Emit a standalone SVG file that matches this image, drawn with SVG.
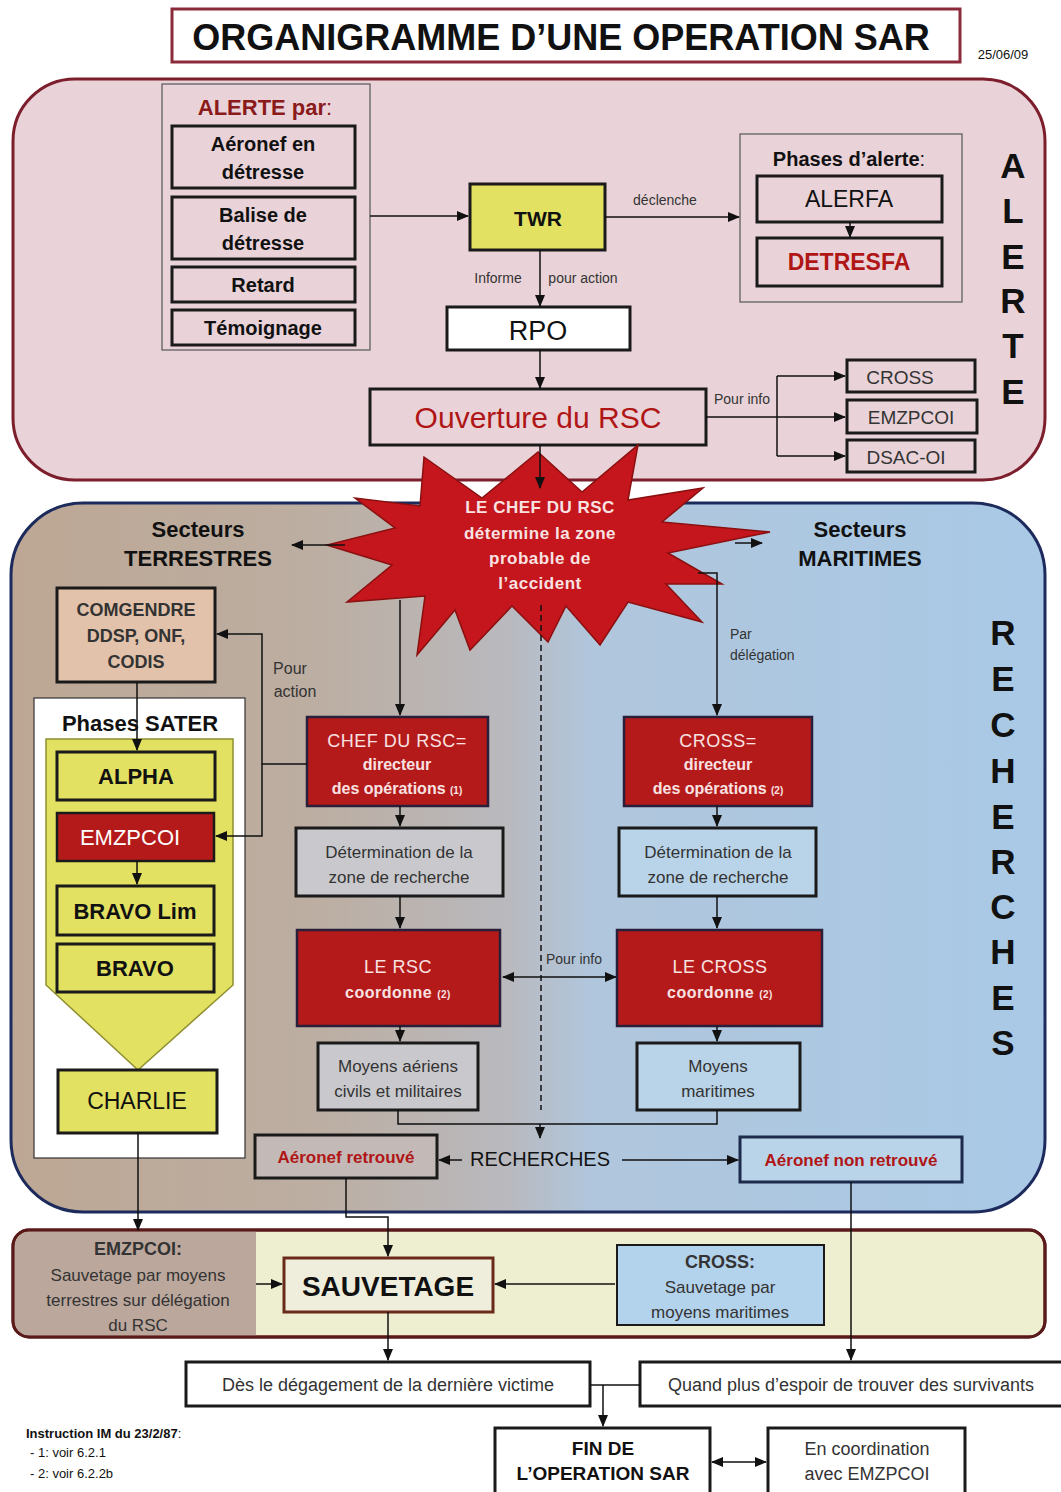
<svg xmlns="http://www.w3.org/2000/svg" width="1061" height="1492" viewBox="0 0 1061 1492">
<defs>
  <marker id="ah" markerUnits="userSpaceOnUse" markerWidth="12" markerHeight="10" refX="11" refY="5" orient="auto-start-reverse">
    <path d="M0,0 L12,5 L0,10 z" fill="#111"/>
  </marker>
  <linearGradient id="rechGrad" x1="0" y1="0" x2="1" y2="0">
    <stop offset="0" stop-color="#bda794"/>
    <stop offset="0.3" stop-color="#bcaea2"/>
    <stop offset="0.48" stop-color="#b9b9be"/>
    <stop offset="0.56" stop-color="#b0c6dc"/>
    <stop offset="1" stop-color="#a9c9e6"/>
  </linearGradient>
  <style>
    text { font-family: "Liberation Sans", Arial, sans-serif; text-anchor: middle; fill: #111; }
    .b { font-weight: bold; }
    .box { stroke: #1a1a1a; stroke-width: 3; }
    .red { fill: #b51a1a; stroke: #2a1f3a; stroke-width: 2.5; }
    .yel { fill: #e3e162; stroke: #1a1a1a; stroke-width: 3; }
    .gray { fill: #c9c9cd; stroke: #1a1a1a; stroke-width: 3; }
    .blue { fill: #b9d3e8; stroke: #1a1a1a; stroke-width: 3; }
    .wt { fill: #fff; }
    .pk { fill: #f8e2e2; }
    .gt { fill: #333; }
    .rt { fill: #b01616; }
    .conn path { stroke: #111; stroke-width: 1.5; fill: none; }
    .arr { marker-end: url(#ah); }
    .dbl { marker-start: url(#ah); marker-end: url(#ah); }
    .vl { font-size: 35px; font-weight: bold; }
  </style>
</defs>

<rect width="1061" height="1492" fill="#ffffff"/>

<!-- Title -->
<g id="title">
  <rect x="172" y="9" width="788" height="53" fill="#fff" stroke="#8b2a3a" stroke-width="3"/>
  <text x="561" y="50" class="b" font-size="36">ORGANIGRAMME D’UNE OPERATION SAR</text>
  <text x="1003" y="59" font-size="13">25/06/09</text>
</g>

<!-- ALERTE region -->
<g id="region-alerte">
  <rect x="13" y="79" width="1032" height="401" rx="62" fill="#e9d3d9" stroke="#7d1e2c" stroke-width="3"/>
  <text x="1013" y="178" class="vl">A</text>
  <text x="1013" y="223" class="vl">L</text>
  <text x="1013" y="269" class="vl">E</text>
  <text x="1013" y="313" class="vl">R</text>
  <text x="1013" y="358" class="vl">T</text>
  <text x="1013" y="404" class="vl">E</text>
</g>

<!-- RECHERCHES region -->
<g id="region-recherches">
  <rect x="11" y="503" width="1034" height="709" rx="72" fill="url(#rechGrad)" stroke="#1c2a5c" stroke-width="3"/>
  <text x="1003" y="645" class="vl" font-size="32">R</text>
  <text x="1003" y="691" class="vl" font-size="32">E</text>
  <text x="1003" y="737" class="vl" font-size="32">C</text>
  <text x="1003" y="783" class="vl" font-size="32">H</text>
  <text x="1003" y="829" class="vl" font-size="32">E</text>
  <text x="1003" y="874" class="vl" font-size="32">R</text>
  <text x="1003" y="919" class="vl" font-size="32">C</text>
  <text x="1003" y="964" class="vl" font-size="32">H</text>
  <text x="1003" y="1010" class="vl" font-size="32">E</text>
  <text x="1003" y="1055" class="vl" font-size="32">S</text>
</g>

<!-- SAUVETAGE region -->
<g id="region-sauvetage">
  <rect x="13" y="1230" width="1032" height="107" rx="16" fill="#eeeed0" stroke="#5a1a1a" stroke-width="3"/>
  <path d="M29,1231.5 H256 V1335.5 H29 A15,15 0 0 1 14.5,1321 V1246 A15,15 0 0 1 29,1231.5 Z" fill="#bba79c"/>
  <rect x="13" y="1230" width="1032" height="107" rx="16" fill="none" stroke="#5a1a1a" stroke-width="3"/>
</g>

<!-- Alerte par -->
<g id="alerte-par">
  <rect x="162" y="84" width="208" height="266" fill="none" stroke="#555" stroke-width="1.2"/>
  <text x="265" y="115" class="b" font-size="22" style="fill:#8b1a1a">ALERTE par<tspan font-weight="normal">:</tspan></text>
</g>
<g id="aeronef-detresse">
  <rect x="172" y="126" width="183" height="62" fill="none" class="box"/>
  <text x="263" y="151" class="b" font-size="20">Aéronef en</text>
  <text x="263" y="179" class="b" font-size="20">détresse</text>
</g>
<g id="balise-detresse">
  <rect x="172" y="197" width="183" height="62" fill="none" class="box"/>
  <text x="263" y="222" class="b" font-size="20">Balise de</text>
  <text x="263" y="250" class="b" font-size="20">détresse</text>
</g>
<g id="retard">
  <rect x="172" y="267" width="183" height="35" fill="none" class="box"/>
  <text x="263" y="292" class="b" font-size="20">Retard</text>
</g>
<g id="temoignage">
  <rect x="172" y="310" width="183" height="35" fill="none" class="box"/>
  <text x="263" y="335" class="b" font-size="20">Témoignage</text>
</g>

<g id="twr">
  <rect x="470" y="184" width="135" height="66" class="yel"/>
  <text x="538" y="226" class="b" font-size="21">TWR</text>
</g>

<g id="phases-alerte">
  <rect x="740" y="134" width="222" height="168" fill="none" stroke="#555" stroke-width="1.2"/>
  <text x="849" y="166" class="b" font-size="20">Phases d’alerte<tspan font-weight="normal">:</tspan></text>
</g>
<g id="alerfa">
  <rect x="757" y="176" width="185" height="46" fill="none" class="box"/>
  <text x="849" y="207" font-size="23">ALERFA</text>
</g>
<g id="detresfa">
  <rect x="757" y="238" width="185" height="48" fill="none" class="box"/>
  <text x="849" y="270" class="b rt" font-size="23">DETRESFA</text>
</g>

<g id="rpo">
  <rect x="447" y="307" width="183" height="43" fill="#fff" class="box"/>
  <text x="538" y="340" font-size="27">RPO</text>
</g>

<g id="ouverture-rsc">
  <rect x="370" y="389" width="336" height="56" fill="#e9d3d9" class="box"/>
  <text x="538" y="428" class="rt" font-size="30">Ouverture du RSC</text>
</g>

<g id="cross-info">
  <rect x="847" y="360" width="128" height="32" fill="none" class="box"/>
  <text x="900" y="384" class="gt" font-size="19">CROSS</text>
</g>
<g id="emzpcoi-info">
  <rect x="847" y="400" width="130" height="33" fill="none" class="box"/>
  <text x="911" y="424" class="gt" font-size="19">EMZPCOI</text>
</g>
<g id="dsac-oi">
  <rect x="847" y="440" width="128" height="32" fill="none" class="box"/>
  <text x="906" y="464" class="gt" font-size="19">DSAC-OI</text>
</g>

<!-- Star -->
<g id="chef-rsc-star">
  <polygon points="424,457 482,498 538,452 582,492 638,445 628,500 703,488 662,522 770,532 668,553 722,584 666,584 702,622 628,602 600,645 566,606 548,642 512,606 470,650 455,610 417,655 425,596 347,602 392,565 327,545 395,528 355,498 420,506" fill="#c4161c" stroke="#8a1010" stroke-width="1.5"/>
  <text x="540" y="513" class="b pk" font-size="17" letter-spacing="0.5">LE CHEF DU  RSC</text>
  <text x="540" y="539" class="b pk" font-size="17" letter-spacing="0.5">détermine la zone</text>
  <text x="540" y="564" class="b pk" font-size="17" letter-spacing="0.5">probable de</text>
  <text x="540" y="589" class="b pk" font-size="17" letter-spacing="0.5">l’accident</text>
</g>

<g id="secteurs-terrestres">
  <text x="198" y="537" class="b" font-size="22">Secteurs</text>
  <text x="198" y="566" class="b" font-size="22">TERRESTRES</text>
</g>
<g id="secteurs-maritimes">
  <text x="860" y="537" class="b" font-size="22">Secteurs</text>
  <text x="860" y="566" class="b" font-size="22">MARITIMES</text>
</g>

<g id="comgendre">
  <rect x="57" y="588" width="158" height="94" fill="#e2c2ab" class="box"/>
  <text x="136" y="616" class="b gt" font-size="18">COMGENDRE</text>
  <text x="136" y="642" class="b gt" font-size="18">DDSP, ONF,</text>
  <text x="136" y="668" class="b gt" font-size="18">CODIS</text>
</g>

<g id="phases-sater">
  <rect x="34" y="698" width="211" height="460" fill="#fff" stroke="#333" stroke-width="1.2"/>
  <polygon points="46,739 233,739 233,985 138,1070 46,985" fill="#e3e162" stroke="#8f8f30" stroke-width="1.5"/>
  <text x="140" y="731" class="b" font-size="22">Phases SATER</text>
</g>
<g id="alpha">
  <rect x="57" y="752" width="158" height="48" class="yel"/>
  <text x="136" y="784" class="b" font-size="22">ALPHA</text>
</g>
<g id="emzpcoi-sater">
  <rect x="57" y="813" width="157" height="48" class="red" style="stroke:#1a1a1a"/>
  <text x="130" y="845" class="wt" font-size="22">EMZPCOI</text>
</g>
<g id="bravo-lim">
  <rect x="57" y="886" width="157" height="49" class="yel"/>
  <text x="135" y="919" class="b" font-size="22">BRAVO Lim</text>
</g>
<g id="bravo">
  <rect x="57" y="944" width="157" height="48" class="yel"/>
  <text x="135" y="976" class="b" font-size="22">BRAVO</text>
</g>
<g id="charlie">
  <rect x="58" y="1070" width="159" height="63" class="yel"/>
  <text x="137" y="1109" font-size="23">CHARLIE</text>
</g>

<g id="chef-rsc-directeur">
  <rect x="307" y="717" width="181" height="89" class="red"/>
  <text x="397" y="747" class="pk" font-size="18" letter-spacing="0.5">CHEF DU RSC=</text>
  <text x="397" y="770" class="b pk" font-size="16">directeur</text>
  <text x="397" y="794" class="b pk" font-size="16">des opérations <tspan font-size="10">(1)</tspan></text>
</g>
<g id="determination-rsc">
  <rect x="296" y="828" width="207" height="68" class="gray"/>
  <text x="399" y="858" class="gt" font-size="17">Détermination de la</text>
  <text x="399" y="883" class="gt" font-size="17">zone de recherche</text>
</g>
<g id="le-rsc">
  <rect x="297" y="930" width="203" height="96" class="red"/>
  <text x="398" y="973" class="pk" font-size="18" letter-spacing="0.5">LE RSC</text>
  <text x="398" y="998" class="b pk" font-size="16" letter-spacing="0.5">coordonne <tspan font-size="10">(2)</tspan></text>
</g>
<g id="moyens-aeriens">
  <rect x="318" y="1043" width="160" height="67" class="gray"/>
  <text x="398" y="1072" class="gt" font-size="17">Moyens aériens</text>
  <text x="398" y="1097" class="gt" font-size="17">civils et militaires</text>
</g>

<g id="cross-directeur">
  <rect x="624" y="717" width="188" height="89" class="red"/>
  <text x="718" y="747" class="pk" font-size="18" letter-spacing="0.5">CROSS=</text>
  <text x="718" y="770" class="b pk" font-size="16">directeur</text>
  <text x="718" y="794" class="b pk" font-size="16">des opérations <tspan font-size="10">(2)</tspan></text>
</g>
<g id="determination-cross">
  <rect x="619" y="828" width="197" height="68" class="blue"/>
  <text x="718" y="858" class="gt" font-size="17">Détermination de la</text>
  <text x="718" y="883" class="gt" font-size="17">zone de recherche</text>
</g>
<g id="le-cross">
  <rect x="617" y="930" width="205" height="96" class="red"/>
  <text x="720" y="973" class="pk" font-size="18" letter-spacing="0.5">LE CROSS</text>
  <text x="720" y="998" class="b pk" font-size="16" letter-spacing="0.5">coordonne <tspan font-size="10">(2)</tspan></text>
</g>
<g id="moyens-maritimes">
  <rect x="637" y="1043" width="163" height="67" class="blue"/>
  <text x="718" y="1072" class="gt" font-size="17">Moyens</text>
  <text x="718" y="1097" class="gt" font-size="17">maritimes</text>
</g>

<g id="recherches">
  <text x="540" y="1166" font-size="20">RECHERCHES</text>
</g>
<g id="aeronef-retrouve">
  <rect x="255" y="1135" width="182" height="43" fill="#c3b9b6" class="box"/>
  <text x="346" y="1163" class="b rt" font-size="17">Aéronef retrouvé</text>
</g>
<g id="aeronef-non-retrouve">
  <rect x="740" y="1137" width="222" height="45" class="blue" style="stroke:#1c2a4c"/>
  <text x="851" y="1166" class="b rt" font-size="17">Aéronef non retrouvé</text>
</g>

<g id="emzpcoi-sauvetage">
  <text x="138" y="1255" class="b gt" font-size="18">EMZPCOI:</text>
  <text x="138" y="1281" class="gt" font-size="17">Sauvetage par moyens</text>
  <text x="138" y="1306" class="gt" font-size="17">terrestres sur délégation</text>
  <text x="138" y="1331" class="gt" font-size="17">du RSC</text>
</g>
<g id="sauvetage">
  <rect x="284" y="1258" width="209" height="54" fill="#efeedd" stroke="#6a2a1a" stroke-width="3"/>
  <text x="388" y="1296" class="b" font-size="28">SAUVETAGE</text>
</g>
<g id="cross-sauvetage">
  <rect x="617" y="1245" width="207" height="80" fill="#b3d2ec" stroke="#1a1a1a" stroke-width="2"/>
  <text x="720" y="1268" class="b gt" font-size="18">CROSS:</text>
  <text x="720" y="1293" class="gt" font-size="17">Sauvetage par</text>
  <text x="720" y="1318" class="gt" font-size="17">moyens maritimes</text>
</g>

<g id="des-degagement">
  <rect x="186" y="1362" width="404" height="44" fill="#fff" class="box"/>
  <text x="388" y="1391" class="gt" font-size="18">Dès le dégagement de la dernière victime</text>
</g>
<g id="quand-plus">
  <rect x="640" y="1362" width="425" height="44" fill="#fff" class="box"/>
  <text x="851" y="1391" class="gt" font-size="18">Quand plus d’espoir de trouver des survivants</text>
</g>
<g id="fin-operation">
  <rect x="495" y="1428" width="215" height="70" fill="#fff" class="box"/>
  <text x="603" y="1455" class="b" font-size="19">FIN DE</text>
  <text x="603" y="1480" class="b" font-size="19">L’OPERATION SAR</text>
</g>
<g id="en-coordination">
  <rect x="768" y="1428" width="197" height="70" fill="#fff" class="box"/>
  <text x="867" y="1455" class="gt" font-size="18">En coordination</text>
  <text x="867" y="1480" class="gt" font-size="18">avec EMZPCOI</text>
</g>

<g id="footnote">
  <text x="26" y="1438" class="b" font-size="13" style="text-anchor:start">Instruction IM du 23/2/87<tspan font-weight="normal">:</tspan></text>
  <text x="30" y="1457" font-size="13" style="text-anchor:start">- 1: voir 6.2.1</text>
  <text x="30" y="1478" font-size="13" style="text-anchor:start">- 2: voir 6.2.2b</text>
</g>

<!-- Connectors -->
<g id="connectors" class="conn">
  <path class="arr" d="M370,216 H468"/>
  <path class="arr" d="M605,217 H739"/>
  <path class="arr" d="M540,250 V306"/>
  <path class="arr" d="M540,350 V388"/>
  <path class="arr" d="M850,222 V237"/>
  <path class="arr" d="M706,417 H845"/>
  <path d="M777,376 V456"/>
  <path class="arr" d="M777,376 H845"/>
  <path class="arr" d="M777,456 H845"/>
  <path class="arr" d="M540,445 V488"/>
  <path class="arr" d="M345,545 H292"/>
  <path class="arr" d="M735,543 H762"/>
  <path class="arr" d="M400,600 V715"/>
  <path class="arr" d="M698,573 H717 V715"/>
  <path d="M541,605 V1110" stroke-dasharray="6,4"/>
  <path class="arr" d="M400,806 V826"/>
  <path class="arr" d="M400,896 V928"/>
  <path class="arr" d="M400,1026 V1041"/>
  <path class="arr" d="M717,806 V826"/>
  <path class="arr" d="M717,896 V928"/>
  <path class="arr" d="M717,1026 V1041"/>
  <path class="dbl" d="M503,977 H616"/>
  <path d="M398,1110 V1124 H717 V1110"/>
  <path class="arr" d="M540,1124 V1138"/>
  <path class="arr" d="M462,1160 H439"/>
  <path class="arr" d="M622,1160 H738"/>
  <path class="arr" d="M307,764 H262 V634 H217"/>
  <path class="arr" d="M262,764 V836 H216"/>
  <path class="arr" d="M137,682 V750"/>
  <path class="arr" d="M137,861 V884"/>
  <path class="arr" d="M138,1133 V1230"/>
  <path class="arr" d="M346,1178 V1217 H388 V1256"/>
  <path class="arr" d="M256,1284 H282"/>
  <path class="arr" d="M615,1284 H495"/>
  <path class="arr" d="M388,1312 V1360"/>
  <path class="arr" d="M851,1182 V1360"/>
  <path d="M590,1385 H640"/>
  <path class="arr" d="M603,1385 V1426"/>
  <path class="dbl" d="M712,1462 H766"/>
</g>

<g id="labels">
  <text x="665" y="205" font-size="14" class="gt">déclenche</text>
  <text x="498" y="283" font-size="14" class="gt">Informe</text>
  <text x="583" y="283" font-size="14" class="gt">pour action</text>
  <text x="742" y="404" font-size="14" class="gt">Pour info</text>
  <text x="290" y="674" font-size="16" class="gt">Pour</text>
  <text x="295" y="697" font-size="16" class="gt">action</text>
  <text x="730" y="639" font-size="14" class="gt" style="text-anchor:start">Par</text>
  <text x="730" y="660" font-size="14" class="gt" style="text-anchor:start">délégation</text>
  <text x="574" y="964" font-size="14" class="gt">Pour info</text>
</g>
</svg>
